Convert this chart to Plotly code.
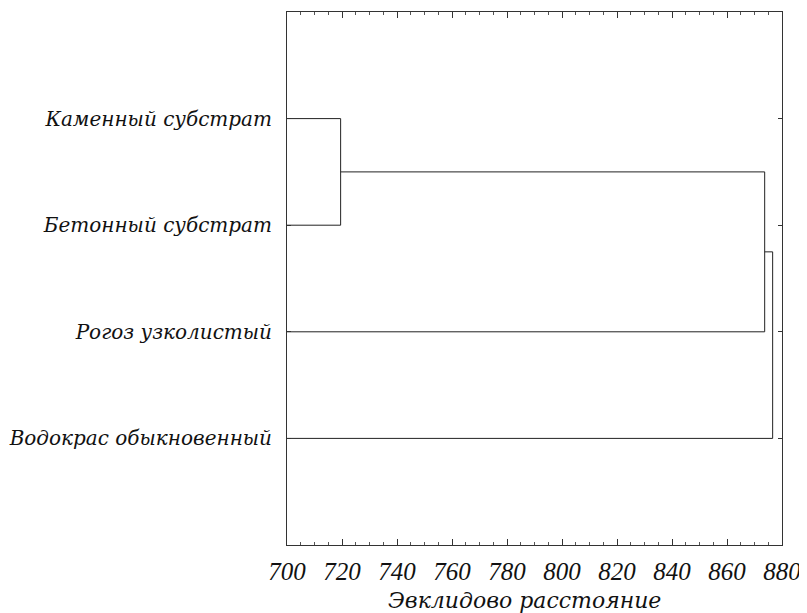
import plotly.graph_objects as go

# Data
leaves = ["Каменный субстрат", "Бетонный субстрат", "Рогоз узколистый", "Водокрас обыкновенный"]
merge_left = [0, 4, 5]      # cluster ids (0..3 leaves, 4.. merged clusters)
merge_right = [1, 2, 3]
merge_height = [719.5, 873.7, 876.6]
x_ticks = [700, 720, 740, 760, 780, 800, 820, 840, 860, 880]
x_title = "Эвклидово расстояние"

# build dendrogram geometry from the linkage
pos = {i: (700.0, float(i + 1)) for i in range(len(leaves))}
xs, ys = [], []
for k, (a, b, h) in enumerate(zip(merge_left, merge_right, merge_height)):
    xa, ya = pos[a]
    xb, yb = pos[b]
    xs += [xa, h, h, xb, None]
    ys += [ya, ya, yb, yb, None]
    pos[len(leaves) + k] = (h, (ya + yb) / 2)

fig = go.Figure()
fig.add_trace(go.Scatter(x=xs, y=ys, mode="lines",
                         line=dict(color="#222", width=1), hoverinfo="skip",
                         showlegend=False))

serif = "Liberation Serif, DejaVu Serif, serif"
dserif = "DejaVu Serif, Liberation Serif, serif"
fig.update_layout(
    width=799, height=605,
    margin=dict(l=279, r=25, t=4, b=68),
    plot_bgcolor="white", paper_bgcolor="white",
    showlegend=False,
)
fig.update_xaxes(
    range=[700, 880], tickvals=x_ticks, ticks="inside", ticklen=6,
    tickcolor="#333", tickwidth=1,
    minor=dict(dtick=5, ticks="inside", ticklen=3, tickcolor="#555"),
    showgrid=False, zeroline=False, showline=True, linecolor="#333",
    linewidth=1, mirror="ticks", ticklabelstandoff=4, automargin=False,
    ticklabeloverflow="allow",
    tickfont=dict(family=serif, size=25, color="#111", style="italic"),
)
fig.add_annotation(
    text=x_title, xref="paper", yref="paper", x=0.479, y=0,
    yshift=-55, xanchor="center", yanchor="middle", showarrow=False,
    font=dict(family=dserif, size=22, color="#111", style="italic"),
)
fig.update_yaxes(
    range=[5, 0], tickvals=[1, 2, 3, 4], ticktext=leaves,
    ticks="inside", ticklen=4, tickcolor="#333",
    showgrid=False, zeroline=False, showline=True, linecolor="#333",
    linewidth=1, mirror="ticks", ticklabelstandoff=10, automargin=False,
    tickfont=dict(family=dserif, size=20, color="#111", style="italic"),
)

fig.write_html("out.html")
